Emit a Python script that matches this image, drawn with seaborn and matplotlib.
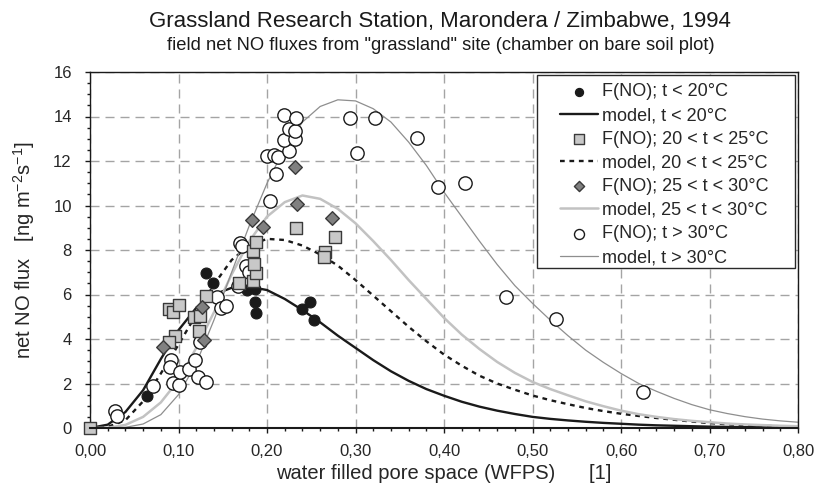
import matplotlib.pyplot as plt
import matplotlib.ticker as mticker
import matplotlib.patches as mpatches
import seaborn as sns

# measured fluxes, by soil temperature class
cold_wfps = [0.064, 0.131, 0.139, 0.177, 0.1865, 0.1865, 0.188, 0.239, 0.249, 0.253]
cold_flux = [1.45, 6.95, 6.5, 6.2, 6.25, 5.65, 5.15, 5.35, 5.65, 4.85]

mid_wfps = [0.0, 0.089, 0.094, 0.101, 0.0955, 0.089, 0.118, 0.124, 0.123, 0.131,
            0.168, 0.184, 0.187, 0.185, 0.184, 0.187, 0.233, 0.277, 0.266, 0.264]
mid_flux = [0.0, 5.35, 5.2, 5.55, 4.15, 3.85, 5.0, 5.05, 4.35, 5.95,
            6.5, 6.6, 6.95, 7.35, 7.95, 8.35, 9.0, 8.6, 7.9, 7.7]

warm_wfps = [0.0824, 0.127, 0.129, 0.1835, 0.195, 0.232, 0.234, 0.273]
warm_flux = [3.65, 5.45, 3.95, 9.35, 9.05, 11.75, 10.05, 9.45]

hot_wfps = [0.028, 0.031, 0.071, 0.091, 0.090, 0.094, 0.100, 0.102, 0.112, 0.119,
            0.122, 0.131, 0.124, 0.144, 0.148, 0.154, 0.167, 0.176, 0.180, 0.170,
            0.172, 0.200, 0.208, 0.212, 0.203, 0.210, 0.225, 0.219, 0.232, 0.225,
            0.232, 0.219, 0.233, 0.294, 0.322, 0.302, 0.370, 0.393, 0.424, 0.470,
            0.527, 0.625]
hot_flux = [0.78, 0.53, 1.88, 3.05, 2.75, 2.03, 1.95, 2.52, 2.67, 3.04,
            2.29, 2.06, 3.87, 5.9, 5.4, 5.5, 6.4, 7.26, 7.0, 8.3,
            8.2, 12.23, 12.25, 12.2, 10.2, 11.43, 12.45, 12.94, 12.98, 13.44,
            13.36, 14.05, 13.93, 13.93, 13.93, 12.34, 13.03, 10.83, 11.03, 5.9,
            4.88, 1.61]

# model curves
model_wfps = [0.00, 0.02, 0.04, 0.06, 0.08, 0.10, 0.12, 0.14, 0.16, 0.18,
              0.20, 0.22, 0.24, 0.26, 0.28, 0.30, 0.32, 0.34, 0.36, 0.38,
              0.40, 0.42, 0.44, 0.46, 0.48, 0.50, 0.52, 0.54, 0.56, 0.58,
              0.60, 0.62, 0.64, 0.66, 0.68, 0.70, 0.72, 0.74, 0.76, 0.78, 0.80]
model_cold = [0.0, 0.15, 0.72, 1.7, 3.1, 4.4, 5.4, 6.0, 6.3, 6.35,
              6.2, 5.8, 5.3, 4.75, 4.15, 3.6, 3.05, 2.55, 2.12, 1.75,
              1.45, 1.18, 0.96, 0.78, 0.63, 0.5, 0.41, 0.34, 0.28, 0.23,
              0.19, 0.15, 0.12, 0.1, 0.08, 0.06, 0.05, 0.04, 0.03, 0.02, 0.02]
model_mid = [0.0, 0.05, 0.35, 1.2, 2.45, 3.75, 5.1, 6.45, 7.55, 8.2,
             8.5, 8.45, 8.2, 7.8, 7.3, 6.65, 5.95, 5.25, 4.55, 3.9,
             3.3, 2.8, 2.35, 2.0, 1.72, 1.46, 1.25, 1.07, 0.9, 0.76,
             0.64, 0.54, 0.45, 0.37, 0.29, 0.22, 0.17, 0.13, 0.1, 0.08, 0.06]
model_warm = [0.0, 0.01, 0.14, 0.5, 1.15, 2.15, 3.6, 5.2, 6.9, 8.4,
              9.5, 10.15, 10.45, 10.3, 9.85, 9.2, 8.4, 7.55, 6.65, 5.8,
              4.95, 4.2, 3.55, 2.97, 2.48, 2.07, 1.75, 1.47, 1.2, 0.98,
              0.78, 0.62, 0.5, 0.4, 0.32, 0.26, 0.2, 0.16, 0.13, 0.1, 0.08]
model_hot = [0.0, 0.0, 0.03, 0.18, 0.6, 1.5, 2.9, 4.85, 7.0, 9.1,
             11.0, 12.6, 13.75, 14.45, 14.75, 14.7, 14.35, 13.75, 12.85, 11.8,
             10.6, 9.5, 8.4, 7.35, 6.4, 5.6, 4.85, 4.15, 3.5, 2.95,
             2.45, 2.0, 1.65, 1.33, 1.05, 0.82, 0.65, 0.51, 0.4, 0.32, 0.26]

labels = ['F(NO); t < 20°C', 'model, t < 20°C',
          'F(NO); 20 < t < 25°C', 'model, 20 < t < 25°C',
          'F(NO); 25 < t < 30°C', 'model, 25 < t < 30°C',
          'F(NO); t > 30°C', 'model, t > 30°C']

sns.set_style("ticks")
plt.rcParams['font.family'] = ['Liberation Sans', 'DejaVu Sans']
plt.rcParams['mathtext.fontset'] = 'custom'
plt.rcParams['mathtext.rm'] = 'Liberation Sans'

fig = plt.figure(figsize=(8.14, 5.0), dpi=100)
ax = fig.add_axes([0.1106, 0.144, 0.8698, 0.712])

# model lines
sns.lineplot(x=model_wfps, y=model_cold, color='#1a1a1a', linewidth=1.7, label=labels[1], ax=ax, zorder=2)
sns.lineplot(x=model_wfps, y=model_mid, color='#1a1a1a', linewidth=1.7, label=labels[3], ax=ax, zorder=2)
ax.lines[-1].set_dashes([2, 2])
sns.lineplot(x=model_wfps, y=model_warm, color='#c2c2c2', linewidth=1.8, label=labels[5], ax=ax, zorder=2)
sns.lineplot(x=model_wfps, y=model_hot, color='#8e8e8e', linewidth=0.9, label=labels[7], ax=ax, zorder=2)

# measurements
sns.scatterplot(x=cold_wfps, y=cold_flux, marker='o', s=62, color='#1a1a1a', edgecolor='#1a1a1a',
                linewidth=0.8, label=labels[0], ax=ax, zorder=3, clip_on=False)
sns.scatterplot(x=hot_wfps, y=hot_flux, marker='o', s=92, color='white', edgecolor='#1a1a1a',
                linewidth=1.0, label=labels[6], ax=ax, zorder=4, clip_on=False)
sns.scatterplot(x=mid_wfps, y=mid_flux, marker='s', s=82, color='#c8c8c8', edgecolor='#3a3a3a',
                linewidth=1.0, label=labels[2], ax=ax, zorder=5, clip_on=False)
sns.scatterplot(x=warm_wfps, y=warm_flux, marker='D', s=48, color='#808080', edgecolor='#3a3a3a',
                linewidth=1.0, label=labels[4], ax=ax, zorder=6, clip_on=False)

ax.set_xlim(0, 0.80)
ax.set_ylim(0, 16)
ax.xaxis.set_major_locator(mticker.MultipleLocator(0.1))
ax.xaxis.set_minor_locator(mticker.MultipleLocator(0.02))
ax.yaxis.set_major_locator(mticker.MultipleLocator(2))
ax.yaxis.set_minor_locator(mticker.MultipleLocator(0.5))
ax.xaxis.set_major_formatter(mticker.FuncFormatter(lambda v, p: f"{v:.2f}".replace('.', ',')))
ax.yaxis.set_major_formatter(mticker.FuncFormatter(lambda v, p: f"{v:.0f}"))
ax.tick_params(which='major', direction='out', length=3.6, width=1, color='#1a1a1a', labelsize=12)
ax.tick_params(which='minor', direction='out', length=2.4, width=1, color='#1a1a1a')
ax.tick_params(axis='x', which='major', pad=8)
ax.tick_params(axis='y', which='major', pad=9.5)
ax.grid(True, which='major', color='#a4a4a4', linewidth=1.0, linestyle=(0, (6.5, 4.3)))
ax.set_axisbelow(True)
for side in ['left', 'bottom', 'top', 'right']:
    ax.spines[side].set_color('#1a1a1a')
    ax.spines[side].set_linewidth(1.0)
ax.spines['bottom'].set_linewidth(1.5)
ax.spines['bottom'].set_zorder(7)

ax.set_xlabel('water filled pore space (WFPS)      [1]', fontsize=14.5)
ax.set_ylabel('net NO flux   [ng m$^{\\mathregular{-2}}$s$^{\\mathregular{-1}}$]', fontsize=14.5)
ax.xaxis.set_label_coords(0.5, -0.101)
ax.yaxis.set_label_coords(-0.0755, 0.5)

fig.text(0.541, 0.956, 'Grassland Research Station, Marondera / Zimbabwe, 1994',
         ha='center', va='center', fontsize=16, color='#1a1a1a')
fig.text(0.541, 0.91, 'field net NO fluxes from "grassland" site (chamber on bare soil plot)',
         ha='center', va='center', fontsize=13.2, color='#1a1a1a')

# legend box
ax.add_patch(mpatches.Rectangle((0.6313, 0.4494), 0.3645, 0.542, transform=ax.transAxes,
                                facecolor='white', edgecolor='#2a2a2a', linewidth=1.0, zorder=8))
h, l = ax.get_legend_handles_labels()
lookup = dict(zip(l, h))
leg = ax.legend([lookup[k] for k in labels], labels, loc='upper left', bbox_to_anchor=(0.664, 0.968),
                frameon=False, fontsize=13, borderpad=0, borderaxespad=0, labelspacing=0.37,
                handlelength=2.1, handletextpad=0.22, markerscale=0.75)
leg.set_zorder(9)

fig.savefig('out.png', dpi=100)
plt.close(fig)
